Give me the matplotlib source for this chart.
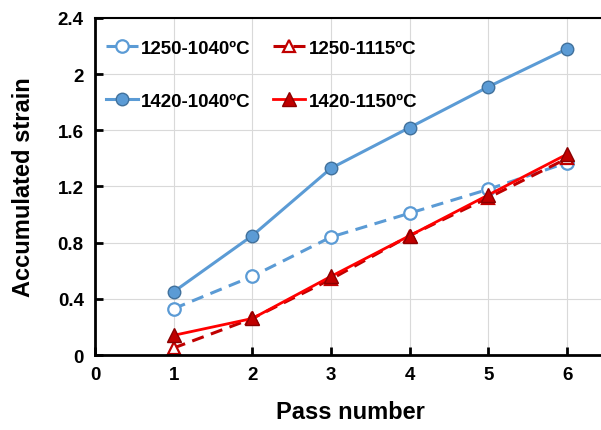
import matplotlib
matplotlib.use('Agg')
from matplotlib import pyplot as plt

passes = [1, 2, 3, 4, 5, 6]
s_1250_1040 = [0.33, 0.56, 0.84, 1.01, 1.18, 1.37]
s_1250_1115 = [0.05, 0.26, 0.54, 0.85, 1.12, 1.40]
s_1420_1040 = [0.45, 0.85, 1.33, 1.62, 1.91, 2.18]
s_1420_1150 = [0.14, 0.26, 0.56, 0.85, 1.14, 1.43]
labels = ['1250-1040ºC', '1250-1115ºC', '1420-1040ºC', '1420-1150ºC']

plt.rcParams['font.family'] = ['Liberation Sans', 'DejaVu Sans']
plt.rcParams['font.weight'] = 'bold'

fig = plt.figure(figsize=(6.01, 4.31), dpi=100)
# axes runs past the right edge of the figure, like the original
ax = fig.add_axes([0.158, 0.174, 0.851, 0.782])

blue = '#5B9BD5'
red = '#FF0000'
dred = '#C00000'

l1, = ax.plot(passes, s_1250_1040, '--o', color=blue, lw=2.2, ms=9, mfc='white',
              mec=blue, mew=1.6, dashes=(4, 2.5), label=labels[0])
l2, = ax.plot(passes, s_1250_1115, '--^', color=dred, lw=2.2, ms=9, mfc='white',
              mec=dred, mew=1.6, dashes=(4, 2.5), label=labels[1])
l3, = ax.plot(passes, s_1420_1040, '-o', color=blue, lw=2.2, ms=9, mfc=blue,
              mec='#41719C', mew=1, label=labels[2])
l4, = ax.plot(passes, s_1420_1150, '-^', color=red, lw=2, ms=10, mfc=dred,
              mec='#8B0000', mew=1, label=labels[3])

ax.set_xlim(0, 6.5)
ax.set_ylim(0, 2.4)
ax.set_xticks(range(0, 7))
ax.set_yticks([0, 0.4, 0.8, 1.2, 1.6, 2.0, 2.4])
ax.set_yticklabels(['0', '0.4', '0.8', '1.2', '1.6', '2', '2.4'])
ax.grid(True, color='#D9D9D9', lw=0.8)
ax.set_axisbelow(True)

ax.spines['right'].set_visible(False)
ax.spines['top'].set_color('black')
ax.spines['top'].set_linewidth(1.5)
for s in ['left', 'bottom']:
    ax.spines[s].set_color('black')
    ax.spines[s].set_linewidth(2)
ax.tick_params(direction='in', length=6, width=2, labelsize=13.5, pad=8)

ax.set_xlabel('Pass number', fontsize=17, fontweight='bold', labelpad=12)
ax.set_ylabel('Accumulated strain', fontsize=17, fontweight='bold', labelpad=16)

ax.legend([l1, l3, l2, l4], [labels[0], labels[2], labels[1], labels[3]],
          ncol=2, loc='upper left', frameon=False, fontsize=13.5,
          handlelength=1.7, columnspacing=1.2, labelspacing=1.9,
          handletextpad=0.2, bbox_to_anchor=(-0.012, 0.985))

fig.savefig('out.png', dpi=100)
